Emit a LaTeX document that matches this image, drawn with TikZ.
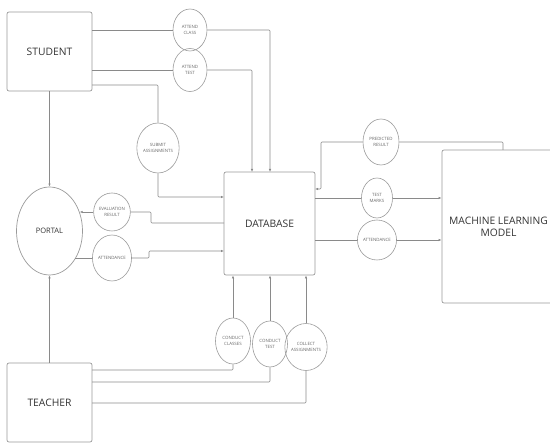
\documentclass[tikz,border=0pt]{standalone}
\usepackage{fontspec}
\setmainfont{Open Sans}
\usetikzlibrary{arrows.meta,shapes.geometric}
\definecolor{ln}{HTML}{8A8A8A}
\definecolor{bd}{HTML}{9A9A9A}
\definecolor{tx}{HTML}{333333}
\definecolor{stx}{HTML}{666666}
\begin{document}
\begin{tikzpicture}[x=1pt,y=-1pt,
  box/.style={draw=bd,line width=0.7pt,rounded corners=2pt,rectangle,inner sep=0pt,text=tx,font=\fontsize{10.3}{12}\selectfont,align=center},
  bub/.style={draw=bd,line width=0.6pt,ellipse,inner sep=0pt,text=stx,font=\fontsize{4.4}{6}\selectfont,align=center},
  conn/.style={draw=ln,line width=0.6pt,rounded corners=1pt},
  arr/.style={conn,-{Latex[length=3pt,width=2.4pt]}}]
\useasboundingbox (0,0) rectangle (550,443);
% main nodes
\node[box,minimum width=85pt,minimum height=79pt] (student) at (49.5,51.5) {STUDENT};
\node[box,minimum width=85pt,minimum height=79pt] (teacher) at (49.5,402.5) {TEACHER};
\node[box,minimum width=91pt,minimum height=103pt] (db) at (269.5,223.5) {DATABASE};
\node[box,minimum width=113pt,minimum height=153pt] (ml) at (498.5,226.5) {MACHINE LEARNING\\MODEL};
\node[draw=bd,line width=0.7pt,ellipse,minimum width=66pt,minimum height=88pt,inner sep=0pt,text=tx,font=\fontsize{7.5}{9}\selectfont] (portal) at (49.5,231) {PORTAL};
% bubbles
\node[bub,minimum width=34pt,minimum height=42pt] (ac) at (190,30) {ATTEND\\CLASS};
\node[bub,minimum width=34pt,minimum height=43pt] (at) at (190,70) {ATTEND\\TEST};
\node[bub,minimum width=40pt,minimum height=50pt] (sa) at (158,148) {SUBMIT\\ASSIGNMENTS};
\node[bub,minimum width=35pt,minimum height=38pt] (er) at (112,212) {EVALUATION\\RESULT};
\node[bub,minimum width=35pt,minimum height=46pt] (pa) at (112,258) {ATTENDANCE};
\node[bub,minimum width=35pt,minimum height=46pt] (cc) at (233,341) {CONDUCT\\CLASSES};
\node[bub,minimum width=35pt,minimum height=46pt] (ct) at (270,344) {CONDUCT\\TEST};
\node[bub,minimum width=35pt,minimum height=47pt] (ca) at (306,347) {COLLECT\\ASSIGNMENTS};
\node[bub,minimum width=36pt,minimum height=46pt] (pr) at (381,142) {PREDICTED\\RESULT};
\node[bub,minimum width=31pt,minimum height=40pt] (tm) at (377,198) {TEST\\MARKS};
\node[bub,minimum width=31pt,minimum height=40pt] (ma) at (377,240) {ATTENDANCE};
% coordinates
\coordinate (dbt1) at (252,172);
\coordinate (dbt2) at (270,172);
\coordinate (s3) at (92,85);
\coordinate (dbl1) at (224,197);
\coordinate (dbl2) at (224,223);
\coordinate (dbl3) at (224,251);
\coordinate (j1) at (149,251);
\coordinate (j2) at (151,223);
\coordinate (t1) at (92,370);
\coordinate (t2) at (92,382);
\coordinate (t3) at (92,403);
\coordinate (m1) at (503,150);
\coordinate (j3) at (321,189);
\coordinate (dbr1) at (315,189);
% student connectors
\draw[conn] (student.east |- ac.west) -- (ac.west);
\draw[arr] (ac.east) -| (dbt2);
\draw[conn] (student.east |- at.west) -- (at.west);
\draw[arr] (at.east) -| (dbt1);
\draw[conn] (s3) -| (sa.north);
\draw[arr] (sa.south) |- (dbl1);
\draw[arr] (student.south) -- (portal.north);
% portal connectors
\draw[conn] (dbl2) -- (j2) |- (er.east);
\draw[arr] (er.west) -- (er.west -| portal.32);
\draw[conn] (pa.west -| portal.-48) -- (pa.west);
\draw[arr] (pa.east) -| (j1) -- (dbl3);
% teacher connectors
\draw[arr] (teacher.north) -- (portal.south);
\draw[conn] (t1) -| (cc.south);
\draw[arr] (cc.north) -- (cc.north |- db.south);
\draw[conn] (t2) -| (ct.south);
\draw[arr] (ct.north) -- (ct.north |- db.south);
\draw[conn] (t3) -| (ca.south);
\draw[arr] (ca.north) -- (ca.north |- db.south);
% ML connectors
\draw[conn] (m1) |- (pr.east);
\draw[arr] (pr.west) -| (j3) -- (dbr1);
\draw[conn] (db.east |- tm.west) -- (tm.west);
\draw[arr] (tm.east) -- (ml.west |- tm.east);
\draw[conn] (db.east |- ma.west) -- (ma.west);
\draw[arr] (ma.east) -- (ml.west |- ma.east);
\end{tikzpicture}
\end{document}
